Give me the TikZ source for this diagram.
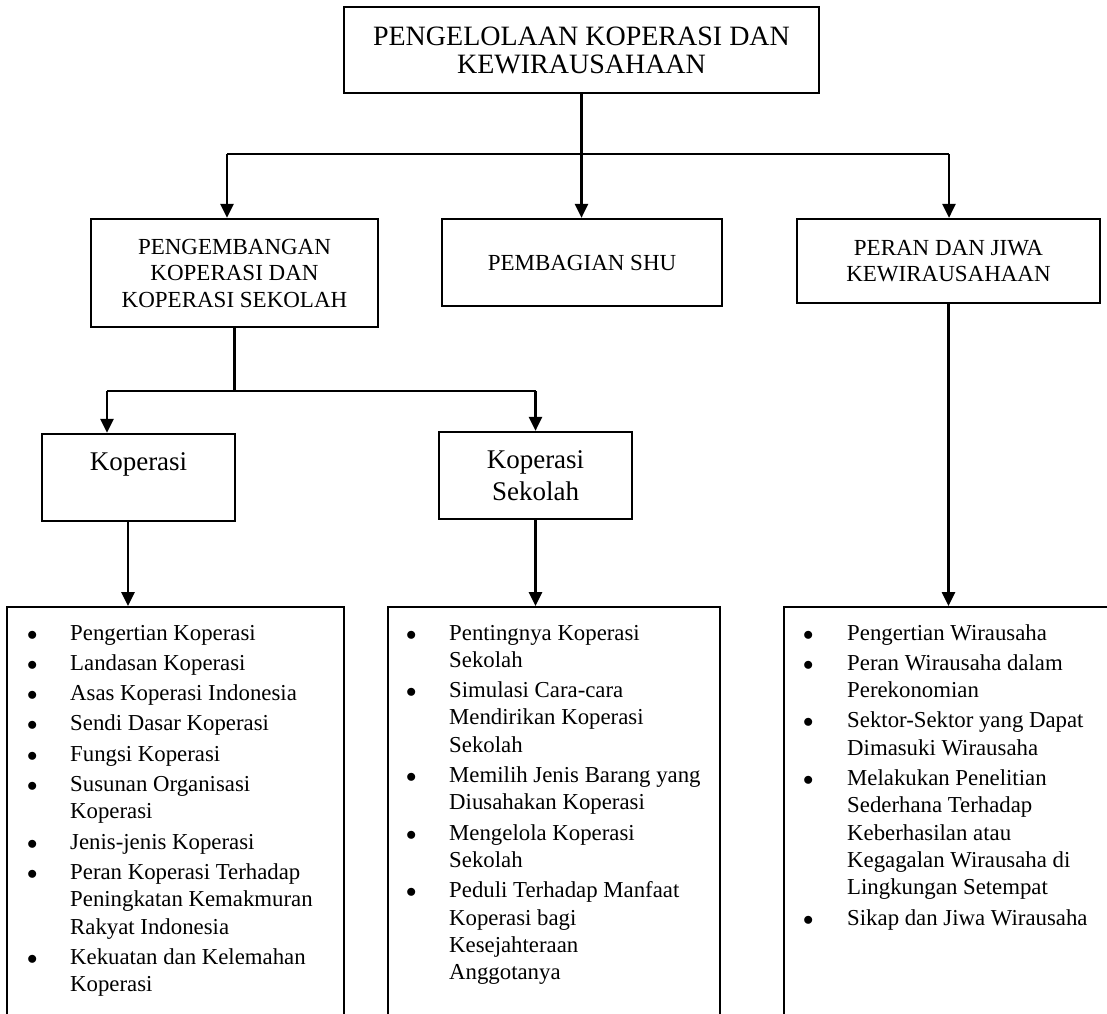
\documentclass[tikz,border=0pt]{standalone}
\usepackage{fontspec}
\setmainfont{Liberation Serif}
\usetikzlibrary{arrows.meta, positioning}

\newcommand{\blt}{$\bullet$}

\begin{document}
\begin{tikzpicture}[x=1pt, y=-1pt,
        every node/.style={inner sep=0pt},
        box/.style={draw=black, line width=2.2pt, align=center},
        bigbox/.style={box, font=\fontsize{28}{28}\selectfont},
        headbox/.style={box, font=\fontsize{23}{26.5}\selectfont},
        subbox/.style={box, font=\fontsize{27}{32}\selectfont, minimum width=193pt, minimum height=87pt},
        listbox/.style={draw=black, line width=2.2pt, minimum height=440pt, anchor=north},
        listtext/.style={anchor=base west, font=\fontsize{22.8}{27.3}\selectfont},
        link/.style={draw=black, line width=2.6pt},
        arr/.style={link, -{Triangle[length=14pt, width=13pt]}},
    ]
    \useasboundingbox (0,0) rectangle (1107,1013);
    \clip (0,0) rectangle (1107,1013);

    % boxes
    \node[bigbox, minimum width=475pt, minimum height=86pt] (top) at (581.5,50) {PENGELOLAAN KOPERASI DAN\\KEWIRAUSAHAAN};

    \node[headbox, minimum width=287pt, minimum height=108pt] (dev) at (234.5,273) {PENGEMBANGAN\\KOPERASI DAN\\KOPERASI SEKOLAH};
    \node[headbox, minimum width=280pt, minimum height=87pt] (shu) at (582,262.5) {PEMBAGIAN SHU};
    \node[headbox, minimum width=303pt, minimum height=84pt] (peran) at (948.5,261) {PERAN DAN JIWA\\KEWIRAUSAHAAN};

    \node[subbox] (kop) at (138.5,477.5) {Koperasi\\\vphantom{Sekolah}};
    \node[subbox] (kops) at (535.5,475.5) {Koperasi\\Sekolah};

    \node[listbox, minimum width=337pt] (lkop) at (175.5,606) {};
    \node[listbox, minimum width=332pt] (lkops) at (554,606) {};
    \node[listbox, minimum width=350pt] (lwira) at (959,606) {};

    % connectors
    \coordinate (hl) at (227,154);
    \coordinate (hr) at (949,154);
    \draw[link] (hl) -- (hr);
    \draw[arr] (hl) -- (hl |- dev.north);
    \draw[arr] (top.south) -- (top.south |- shu.north);
    \draw[arr] (hr) -- (hr |- peran.north);

    \coordinate (kl) at (107,391);
    \coordinate (kr) at (535.5,391);
    \draw[link] (dev.south) -- (dev.south |- kl);
    \draw[link] (kl) -- (kr);
    \draw[arr] (kl) -- (kl |- kop.north);
    \draw[arr] (kr) -- (kops.north);

    \draw[arr] ([xshift=-10.5pt]kop.south) -- ([xshift=-10.5pt]kop.south |- lkop.north);
    \draw[arr] (kops.south) -- (kops.south |- lkops.north);
    \draw[arr] (peran.south) -- (peran.south |- lwira.north);

    % lists
    \node[listtext] (tkop) at (27,640) {\begin{tabular}[t]{@{}p{43pt}@{}l@{}}
        \blt & Pengertian Koperasi\\[3pt]
        \blt & Landasan Koperasi\\[3pt]
        \blt & Asas Koperasi Indonesia\\[3pt]
        \blt & Sendi Dasar Koperasi\\[3pt]
        \blt & Fungsi Koperasi\\[3pt]
        \blt & Susunan Organisasi\\
             & Koperasi\\[3pt]
        \blt & Jenis-jenis Koperasi\\[3pt]
        \blt & Peran Koperasi Terhadap\\
             & Peningkatan Kemakmuran\\
             & Rakyat Indonesia\\[3pt]
        \blt & Kekuatan dan Kelemahan\\
             & Koperasi
    \end{tabular}};

    \node[listtext] (tkops) at (406,640) {\begin{tabular}[t]{@{}p{43pt}@{}l@{}}
        \blt & Pentingnya Koperasi\\
             & Sekolah\\[3pt]
        \blt & Simulasi Cara-cara\\
             & Mendirikan Koperasi\\
             & Sekolah\\[3pt]
        \blt & Memilih Jenis Barang yang\\
             & Diusahakan Koperasi\\[3pt]
        \blt & Mengelola Koperasi\\
             & Sekolah\\[3pt]
        \blt & Peduli Terhadap Manfaat\\
             & Koperasi bagi\\
             & Kesejahteraan\\
             & Anggotanya
    \end{tabular}};

    \node[listtext] (twira) at (803,640) {\begin{tabular}[t]{@{}p{44pt}@{}l@{}}
        \blt & Pengertian Wirausaha\\[3pt]
        \blt & Peran Wirausaha dalam\\
             & Perekonomian\\[3pt]
        \blt & Sektor-Sektor yang Dapat\\
             & Dimasuki Wirausaha\\[3pt]
        \blt & Melakukan Penelitian\\
             & Sederhana Terhadap\\
             & Keberhasilan atau\\
             & Kegagalan Wirausaha di\\
             & Lingkungan Setempat\\[3pt]
        \blt & Sikap dan Jiwa Wirausaha
    \end{tabular}};
\end{tikzpicture}
\end{document}
